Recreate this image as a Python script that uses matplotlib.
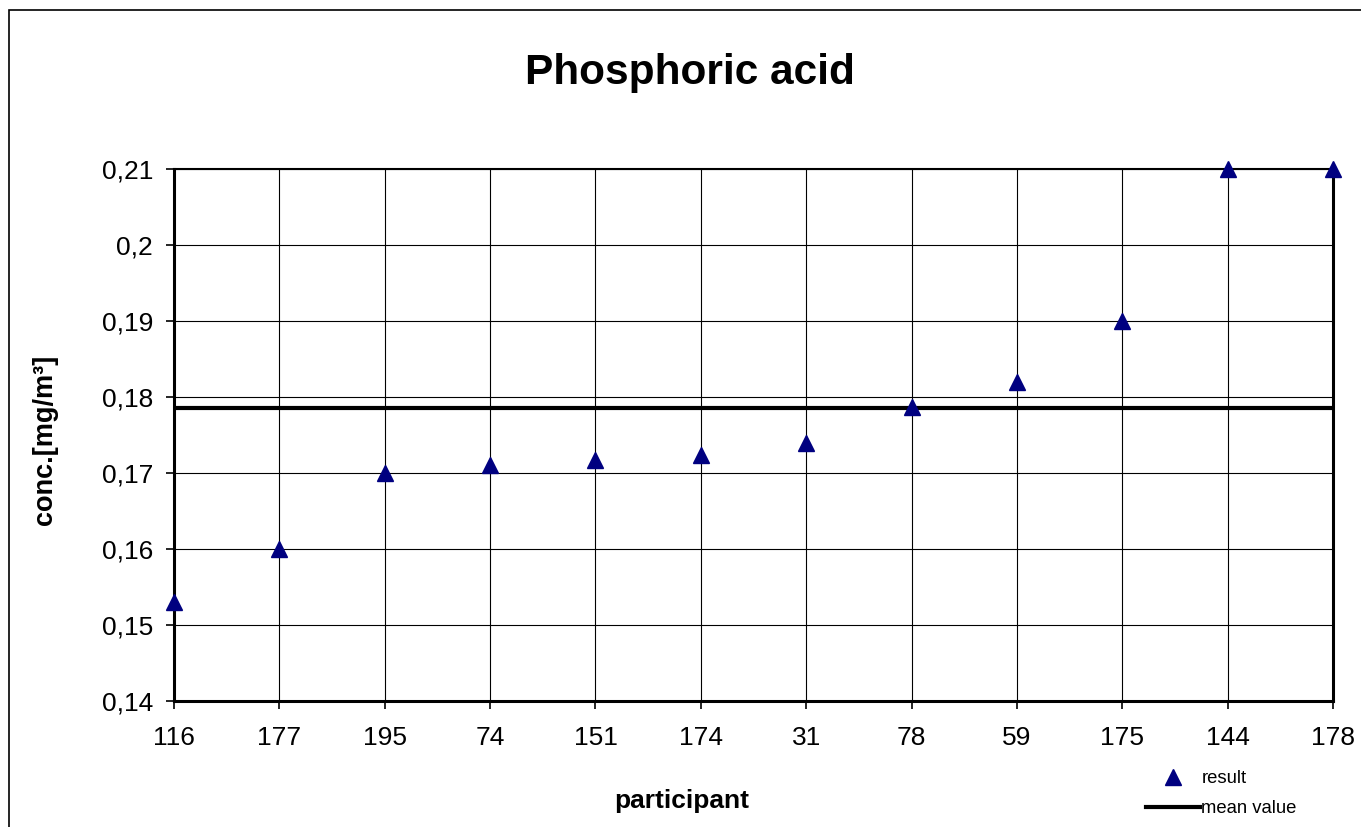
"""
Phosphoric acid - participant results vs mean value.
"""

import matplotlib
matplotlib.use("Agg")
import matplotlib.pyplot as plt
from matplotlib.patches import Rectangle
from matplotlib.ticker import FuncFormatter, MultipleLocator

participants = ["116", "177", "195", "74", "151", "174", "31", "78", "59", "175", "144", "178"]
results = [0.153, 0.160, 0.170, 0.171, 0.1717, 0.1724, 0.174, 0.1787, 0.182, 0.190, 0.210, 0.210]
mean_value = 0.1786

plt.rcParams["font.family"] = ["Liberation Sans", "DejaVu Sans"]

W, H = 1361, 827
fig = plt.figure(figsize=(W / 100, H / 100), dpi=100)
ax = fig.add_axes([174 / W, 1 - 701 / H, (1333 - 174) / W, (701 - 169) / H])

x = list(range(len(participants)))
ax.plot(x, results, linestyle="none", marker="^", ms=11, color="#000080",
        label="result", zorder=5, clip_on=False)
ax.axhline(mean_value, color="black", lw=3, label="mean value", zorder=4)

ax.set_xlim(0, len(participants) - 1)
ax.set_ylim(0.14, 0.21)
ax.set_xticks(x)
ax.set_xticklabels(participants)
ax.yaxis.set_major_locator(MultipleLocator(0.01))
ax.yaxis.set_major_formatter(FuncFormatter(lambda v, p: f"{round(v, 4):g}".replace(".", ",")))

ax.grid(True, color="black", lw=0.8)
ax.set_axisbelow(True)
ax.tick_params(axis="both", direction="out", length=6, width=1.2, labelsize=19, colors="black")
ax.tick_params(axis="x", pad=12)
ax.tick_params(axis="y", pad=9)
for side in ["left", "bottom", "right"]:
    ax.spines[side].set_linewidth(2.2)
ax.spines["top"].set_linewidth(1.5)

fig.text(690 / W, 1 - 73 / H, "Phosphoric acid", ha="center", va="center",
         fontsize=30.5, fontweight="bold")
fig.text(682 / W, 1 - 801 / H, "participant", ha="center", va="center",
         fontsize=19, fontweight="bold")
fig.text(45 / W, 1 - 440 / H, "conc.[mg/m³]", ha="center", va="center",
         rotation=90, fontsize=19.5, fontweight="bold")

ax.legend(loc="upper left", bbox_to_anchor=(1146 / W, 1 - 770 / H),
          bbox_transform=fig.transFigure, frameon=False, fontsize=13.3,
          handlelength=2.9, handletextpad=0.1, labelspacing=0.72,
          borderpad=0, borderaxespad=0)

fig.patches.append(Rectangle((9 / W, -0.1), 2, 1.1 - 10 / H, transform=fig.transFigure,
                             fill=False, edgecolor="black", lw=1.2))

fig.savefig("out.png", dpi=100)
